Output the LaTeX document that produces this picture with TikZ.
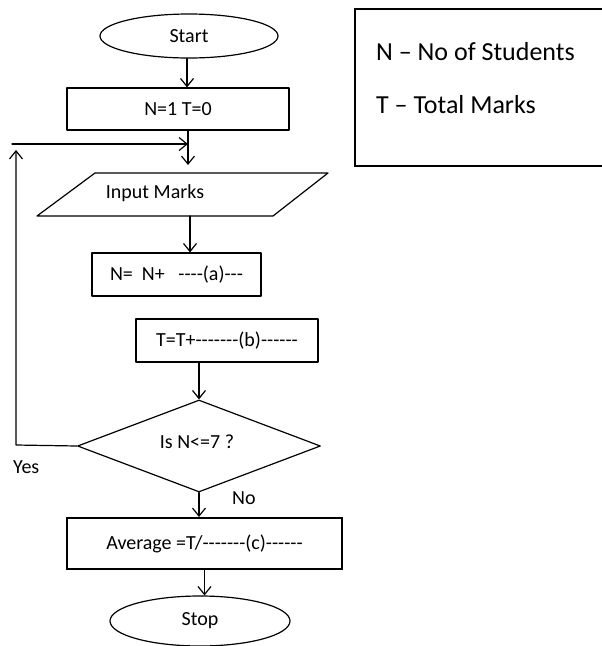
\documentclass[tikz,border=0pt]{standalone}
\usepackage{fontspec}
\setmainfont{Carlito}
\usetikzlibrary{shapes.geometric,arrows.meta}
\begin{document}
\begin{tikzpicture}[x=1pt,y=-1pt,
  every node/.style={inner sep=0pt,font=\fontsize{20}{24}\selectfont},
  ln/.style={line width=1.2pt,line cap=round,line join=round},
  arr/.style={ln,-{Straight Barb[length=8pt,width=13pt,line width=1.2pt]}},
  boxs/.style={draw,ln,rectangle},
  ovals/.style={draw,ln,ellipse},
  thickbox/.style={draw,line width=2pt,rectangle},
  legtext/.style={anchor=base west,font=\fontsize{26}{30}\selectfont}]
\useasboundingbox (0,0) rectangle (602,646);
% legend
\draw[line width=2pt] (604,9) -- (355,9) -- (355,166) -- (604,166);
\node[legtext] (l1) at (376,60) {N – No of Students};
\node[legtext] (l2) at (376,113) {T – Total Marks};
% flowchart nodes
\node[ovals,minimum width=178pt,minimum height=44pt] (start) at (189,36) {Start};
\node[boxs,minimum width=222pt,minimum height=42pt] (n1) at (178,109) {N=1 T=0};
\draw[ln] (95,173) -- (328,173) -- (273,216) -- (37,216) -- cycle;
\node (inp) at (155,193) {Input Marks};
\coordinate (ptop) at (188,165);
\coordinate (pbot) at (190,216);
\node[boxs,minimum width=169pt,minimum height=43pt] (a) at (176.5,274.5) {N=\ \ N+\ \ \ -{}-{}-{}-(a)-{}-{}-};
\node[boxs,minimum width=182pt,minimum height=43pt] (b) at (227,340.5) {T=T+-{}-{}-{}-{}-{}-{}-(b)-{}-{}-{}-{}-{}-};
\node[draw,ln,diamond,minimum width=243pt,minimum height=92pt] (dia) at (199,446) {};
\node (diat) at (197,442) {Is N<=7 ?};
\node[thickbox,minimum width=275pt,minimum height=51pt] (avg) at (204.5,543.5) {Average =T/-{}-{}-{}-{}-{}-{}-(c)-{}-{}-{}-{}-{}-};
\node[ovals,minimum width=180pt,minimum height=50pt] (stop) at (200,621) {Stop};
\node[anchor=base west] (yes) at (13,473) {Yes};
\node[anchor=base west] (no) at (232,504) {No};
% connectors
\draw[arr] (start.south -| 187,0) -- (n1.north -| 187,0);
\draw[arr] (n1.south -| ptop) -- (ptop);
\draw[arr] (pbot) -- (pbot |- a.north);
\draw[arr] (b.south -| dia.north) -- (dia.north);
\draw[arr] (dia.south) -- (dia.south |- avg.north);
\draw[arr] (avg.south) -- (avg.south |- stop.north);
% loop back
\coordinate (lc) at (16,445);
\coordinate (lt) at (16,150);
\coordinate (hl) at (12,144);
\coordinate (hr) at (188,144);
\draw[arr] (dia.west) -- (lc) -- (lt);
\draw[arr] (hl) -- (hr);
\end{tikzpicture}
\end{document}
